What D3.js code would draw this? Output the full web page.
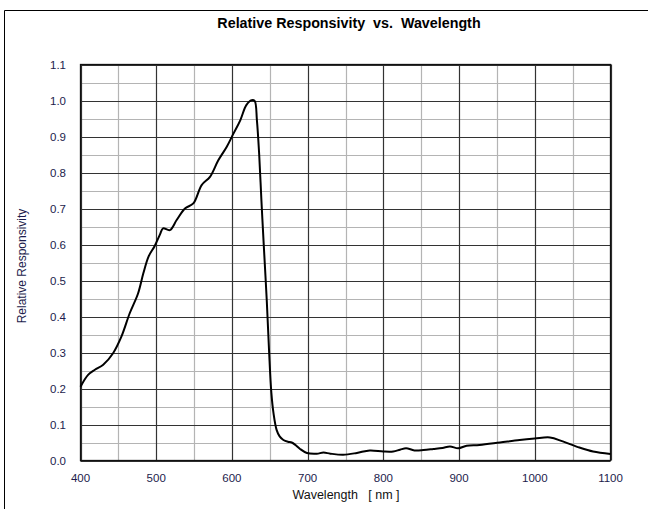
<!DOCTYPE html>
<html>
<head>
<meta charset="utf-8">
<script src="https://cdn.jsdelivr.net/npm/d3@7.9.0/dist/d3.min.js"></script>
<style>
  body { margin: 0; background: #fff; }
  svg { display: block; font-family: "Liberation Sans", Arial, sans-serif; }
</style>
</head>
<body>
<svg id="chart" width="648" height="509"></svg>
<script>
// wavelength (nm) and relative responsivity
const wavelengths = [400, 410, 419, 430, 443, 454, 465, 476, 483, 490, 498, 505, 509, 518, 527, 538,
  549, 560, 571, 582, 593, 602, 611, 619, 626, 630, 633, 636, 639, 642, 646, 649, 652, 655, 659,
  663, 668, 674, 679, 684, 690, 699, 712, 721, 730, 747, 765, 782, 800, 813, 822, 830, 841, 853,
  866, 878, 888, 899, 910, 927, 954, 980, 1000, 1020, 1037, 1059, 1077, 1100];
const responsivity = [0.205, 0.238, 0.252, 0.266, 0.298, 0.344, 0.409, 0.464, 0.52, 0.567, 0.596,
  0.628, 0.645, 0.64, 0.668, 0.70, 0.714, 0.765, 0.788, 0.834, 0.871, 0.908, 0.945, 0.987, 1.001,
  0.999, 0.945, 0.85, 0.72, 0.6, 0.445, 0.307, 0.19, 0.13, 0.085, 0.067, 0.057, 0.052, 0.05, 0.043,
  0.032, 0.021, 0.019, 0.022, 0.019, 0.016, 0.021, 0.028, 0.025, 0.025, 0.03, 0.034, 0.028, 0.029,
  0.032, 0.035, 0.039, 0.034, 0.041, 0.043, 0.05, 0.057, 0.061, 0.064, 0.053, 0.036, 0.025, 0.018];

const xTicks = [400, 500, 600, 700, 800, 900, 1000, 1100];
const xMinor = [450, 550, 650, 750, 850, 950, 1050];
const yTicks = [0.0, 0.1, 0.2, 0.3, 0.4, 0.5, 0.6, 0.7, 0.8, 0.9, 1.0, 1.1];
const yMinor = [0.05, 0.15, 0.25, 0.35, 0.45, 0.55, 0.65, 0.75, 0.85, 0.95, 1.05];

const svg = d3.select('#chart');
const x = d3.scaleLinear().domain([400, 1100]).range([80.5, 610.5]);
const y = d3.scaleLinear().domain([0, 1.1]).range([460.5, 64.5]);

// outer frame (only top and left edges visible in the picture)
svg.append('path')
  .attr('d', 'M4.5,509 V10.5 H648')
  .attr('fill', 'none')
  .attr('stroke', '#000')
  .attr('stroke-width', 1);

svg.append('text')
  .attr('x', 349).attr('y', 28)
  .attr('text-anchor', 'middle')
  .attr('font-size', 14.3).attr('font-weight', 'bold')
  .attr('fill', '#000')
  .attr('xml:space', 'preserve')
  .text('Relative Responsivity  vs.  Wavelength');

const grid = svg.append('g');
grid.selectAll('.vminor').data(xMinor).join('line')
  .attr('x1', d => Math.round(x(d)) + 0.5).attr('x2', d => Math.round(x(d)) + 0.5)
  .attr('y1', y(0)).attr('y2', y(1.1))
  .attr('stroke', '#b4b4b4').attr('stroke-width', 1.2);
grid.selectAll('.hminor').data(yMinor).join('line')
  .attr('y1', d => Math.round(y(d)) + 0.5).attr('y2', d => Math.round(y(d)) + 0.5)
  .attr('x1', x(400)).attr('x2', x(1100))
  .attr('stroke', '#b4b4b4').attr('stroke-width', 1.2);
grid.selectAll('.vmajor').data(xTicks).join('line')
  .attr('x1', d => Math.round(x(d)) + 0.5).attr('x2', d => Math.round(x(d)) + 0.5)
  .attr('y1', y(0)).attr('y2', y(1.1))
  .attr('stroke', '#333').attr('stroke-width', 1.2);
grid.selectAll('.hmajor').data(yTicks).join('line')
  .attr('y1', d => Math.round(y(d)) + 0.5).attr('y2', d => Math.round(y(d)) + 0.5)
  .attr('x1', x(400)).attr('x2', x(1100))
  .attr('stroke', '#333').attr('stroke-width', 1.2);

svg.append('rect')
  .attr('x', x(400)).attr('y', y(1.1))
  .attr('width', x(1100) - x(400)).attr('height', y(0) - y(1.1))
  .attr('fill', 'none').attr('stroke', '#111').attr('stroke-width', 1.3);

// tick labels
svg.append('g').selectAll('text').data(yTicks).join('text')
  .attr('x', 66).attr('y', d => y(d) + 4)
  .attr('text-anchor', 'end')
  .attr('font-size', 11.5).attr('fill', '#1c1c4c')
  .text(d => d3.format('.1f')(d));

svg.append('g').selectAll('text').data(xTicks).join('text')
  .attr('x', d => x(d)).attr('y', 482)
  .attr('text-anchor', 'middle')
  .attr('font-size', 11.5).attr('fill', '#1c1c4c')
  .text(d => d);

svg.append('text')
  .attr('x', 346).attr('y', 499)
  .attr('text-anchor', 'middle')
  .attr('font-size', 12.5).attr('fill', '#111')
  .attr('xml:space', 'preserve')
  .text('Wavelength   [ nm ]');

svg.append('text')
  .attr('transform', 'translate(26,266) rotate(-90)')
  .attr('text-anchor', 'middle')
  .attr('font-size', 12).attr('fill', '#1c1c4c')
  .text('Relative Responsivity');

const line = d3.line()
  .x((d, i) => x(wavelengths[i]))
  .y(d => y(d))
  .curve(d3.curveCatmullRom.alpha(0.5));

svg.append('path')
  .datum(responsivity)
  .attr('d', line)
  .attr('fill', 'none')
  .attr('stroke', '#000')
  .attr('stroke-width', 2);
</script>
</body>
</html>
